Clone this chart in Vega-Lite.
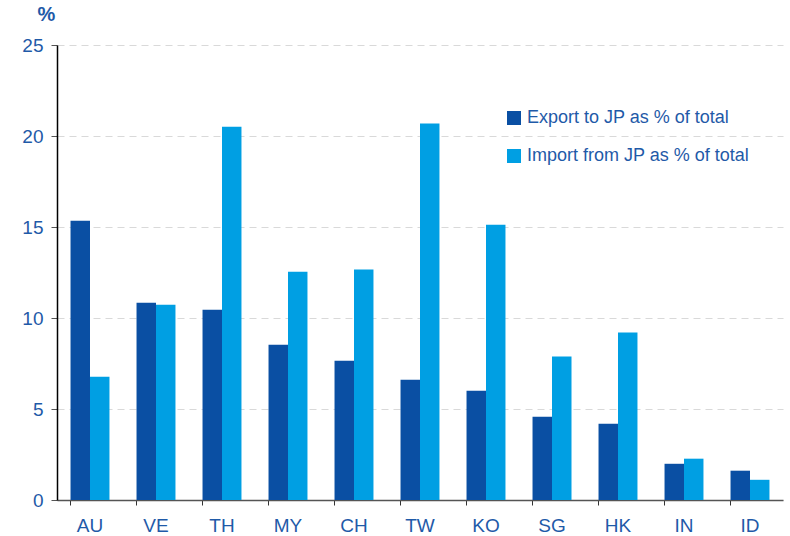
{
  "$schema": "https://vega.github.io/schema/vega-lite/v6.json",
  "width": 726,
  "height": 455,
  "autosize": {"type": "none"},
  "padding": {"left": 57, "top": 45, "right": 7, "bottom": 36},
  "background": "white",
  "config": {
    "view": {"stroke": null},
    "font": "Liberation Sans"
  },
  "data": {
    "values": [
      {"country": "AU", "series": "Export to JP as % of total", "value": 15.35},
      {"country": "AU", "series": "Import from JP as % of total", "value": 6.77},
      {"country": "VE", "series": "Export to JP as % of total", "value": 10.84},
      {"country": "VE", "series": "Import from JP as % of total", "value": 10.73},
      {"country": "TH", "series": "Export to JP as % of total", "value": 10.46},
      {"country": "TH", "series": "Import from JP as % of total", "value": 20.51},
      {"country": "MY", "series": "Export to JP as % of total", "value": 8.53},
      {"country": "MY", "series": "Import from JP as % of total", "value": 12.54},
      {"country": "CH", "series": "Export to JP as % of total", "value": 7.65},
      {"country": "CH", "series": "Import from JP as % of total", "value": 12.67},
      {"country": "TW", "series": "Export to JP as % of total", "value": 6.61},
      {"country": "TW", "series": "Import from JP as % of total", "value": 20.68},
      {"country": "KO", "series": "Export to JP as % of total", "value": 6.0},
      {"country": "KO", "series": "Import from JP as % of total", "value": 15.13},
      {"country": "SG", "series": "Export to JP as % of total", "value": 4.58},
      {"country": "SG", "series": "Import from JP as % of total", "value": 7.88},
      {"country": "HK", "series": "Export to JP as % of total", "value": 4.19},
      {"country": "HK", "series": "Import from JP as % of total", "value": 9.2},
      {"country": "IN", "series": "Export to JP as % of total", "value": 1.99},
      {"country": "IN", "series": "Import from JP as % of total", "value": 2.27},
      {"country": "ID", "series": "Export to JP as % of total", "value": 1.61},
      {"country": "ID", "series": "Import from JP as % of total", "value": 1.11}
    ]
  },
  "mark": {"type": "bar"},
  "encoding": {
    "x": {
      "field": "country",
      "type": "nominal",
      "sort": null,
      "scale": {"paddingInner": 0.41, "paddingOuter": 0.205},
      "axis": {
        "title": null,
        "labelAngle": 0,
        "labelFontSize": 19,
        "labelColor": "#1F5AA8",
        "labelPadding": 11,
        "domainColor": "#555555",
        "domainWidth": 1.5,
        "tickColor": "#333333",
        "tickSize": 5,
        "bandPosition": 0,
        "grid": false
      }
    },
    "xOffset": {
      "field": "series",
      "type": "nominal",
      "scale": {"paddingInner": 0, "paddingOuter": 0}
    },
    "y": {
      "field": "value",
      "type": "quantitative",
      "scale": {"domain": [0, 25], "nice": false},
      "axis": {
        "values": [0, 5, 10, 15, 20, 25],
        "title": "%",
        "titleAngle": 0,
        "titleFontSize": 20,
        "titleFontWeight": "bold",
        "titleColor": "#1F5AA8",
        "titleAlign": "center",
        "titleBaseline": "bottom",
        "titleX": -11,
        "titleY": -21,
        "labelFontSize": 19,
        "labelColor": "#1F5AA8",
        "labelPadding": 8,
        "domainColor": "#000000",
        "domainWidth": 1.5,
        "tickColor": "#555555",
        "tickSize": 6,
        "gridColor": "#D9D9D9",
        "gridDash": [7, 5],
        "gridWidth": 1
      }
    },
    "color": {
      "field": "series",
      "type": "nominal",
      "scale": {
        "domain": ["Export to JP as % of total", "Import from JP as % of total"],
        "range": ["#0A4FA3", "#009FE3"]
      },
      "legend": {
        "title": null,
        "orient": "none",
        "legendX": 448,
        "legendY": 64,
        "padding": 0,
        "symbolType": "square",
        "symbolSize": 196,
        "symbolStrokeWidth": 0,
        "labelFontSize": 18,
        "labelColor": "#1F5AA8",
        "labelOffset": 4,
        "rowPadding": 20,
        "labelLimit": 400
      }
    }
  }
}
